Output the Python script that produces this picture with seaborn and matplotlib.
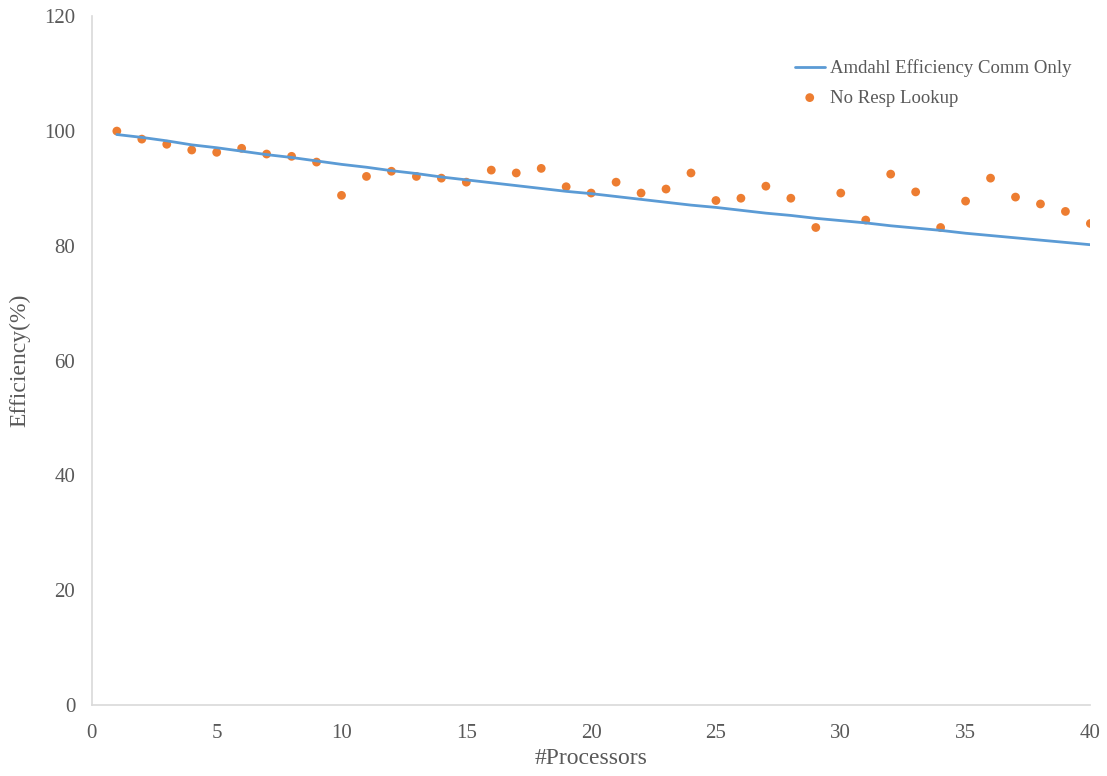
import matplotlib
matplotlib.use("Agg")
import matplotlib.pyplot as plt
import seaborn as sns
import pandas as pd

processors = list(range(1, 41))
amdahl_eff = [99.4, 98.9, 98.3, 97.6, 97.1, 96.5, 95.9, 95.4, 94.8, 94.2,
              93.7, 93.1, 92.6, 92.0, 91.5, 91.0, 90.5, 90.0, 89.5, 89.1,
              88.6, 88.1, 87.6, 87.1, 86.7, 86.2, 85.7, 85.3, 84.8, 84.4,
              84.0, 83.5, 83.1, 82.7, 82.2, 81.8, 81.4, 81.0, 80.6, 80.2]
no_resp = [100.0, 98.6, 97.7, 96.7, 96.3, 97.0, 96.0, 95.6, 94.6, 88.8,
           92.1, 93.0, 92.1, 91.8, 91.1, 93.2, 92.7, 93.5, 90.3, 89.2,
           91.1, 89.2, 89.9, 92.7, 87.9, 88.3, 90.4, 88.3, 83.2, 89.2,
           84.5, 92.5, 89.4, 83.2, 87.8, 91.8, 88.5, 87.3, 86.0, 83.9]
x_ticks = [0, 5, 10, 15, 20, 25, 30, 35, 40]
y_ticks = [0, 20, 40, 60, 80, 100, 120]

df = pd.DataFrame({"p": processors, "amdahl": amdahl_eff, "resp": no_resp})

sns.set_theme(style="white")
plt.rcParams['font.family'] = ['Liberation Serif', 'DejaVu Serif']

fig = plt.figure(figsize=(11.07, 7.76), dpi=100)
ax = fig.add_axes([0.083, 0.0915, 0.902, 0.8875])

sns.lineplot(data=df, x="p", y="amdahl", ax=ax, color="#5B9BD5", linewidth=2,
             label="Amdahl Efficiency Comm Only")
sns.scatterplot(data=df, x="p", y="resp", ax=ax, color="#ED7D31", s=40,
                edgecolor="none", label="No Resp Lookup")

ax.set_xlim(0, 40)
ax.set_ylim(0, 120)
ax.set_xticks(x_ticks)
ax.set_yticks(y_ticks)
ax.tick_params(axis="both", length=0, labelsize=15, colors="#595959")
ax.tick_params(axis="x", pad=14)
ax.tick_params(axis="y", pad=12)
ax.set_xlabel("#Processors", fontsize=17, color="#595959", labelpad=3)
ax.set_ylabel("Efficiency(%)", fontsize=17, color="#595959", labelpad=10)
for s in ["top", "right"]:
    ax.spines[s].set_visible(False)
for s in ["left", "bottom"]:
    ax.spines[s].set_color("#D9D9D9")
    ax.spines[s].set_linewidth(1.2)

leg = ax.legend(loc="upper left", bbox_to_anchor=(0.687, 0.962), frameon=False,
                fontsize=13.5, handlelength=1.6, handletextpad=0.3, labelspacing=0.65)
for t in leg.get_texts():
    t.set_color("#595959")

fig.savefig("out.png", dpi=100)
